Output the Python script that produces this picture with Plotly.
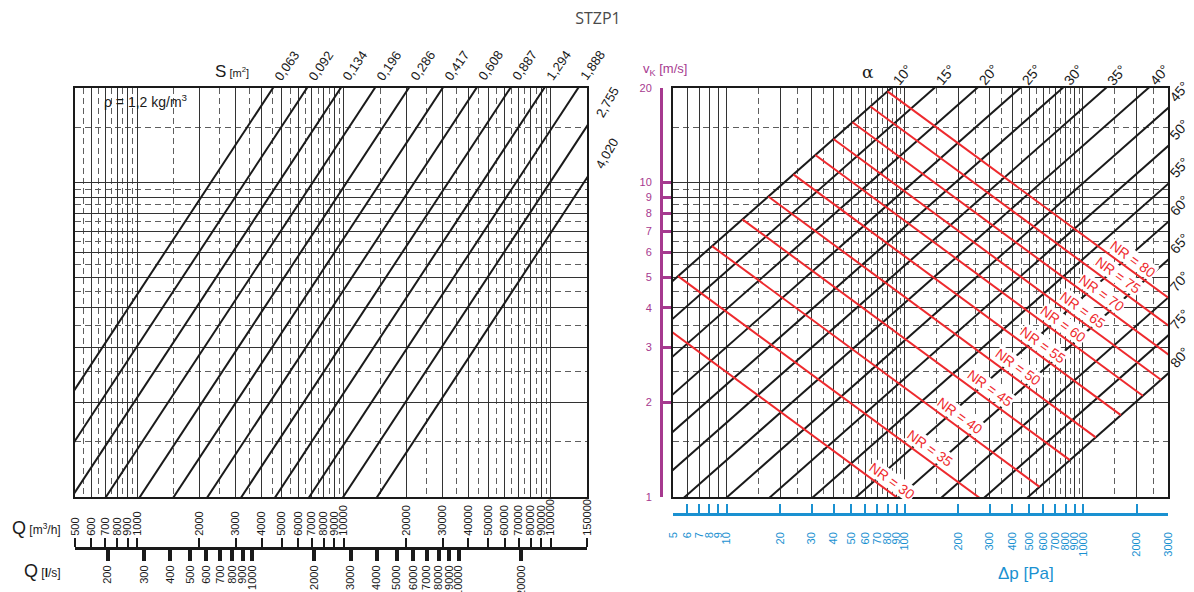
import math
import plotly.graph_objects as go

L10 = math.log10

# ---------------- data ----------------
# Left panel: free cross-section S [m2]
S_values = [0.063, 0.092, 0.134, 0.196, 0.286, 0.417, 0.608, 0.887, 1.294, 1.888, 2.755, 4.020]
S_labels = ["0,063", "0,092", "0,134", "0,196", "0,286", "0,417", "0,608", "0,887",
            "1,294", "1,888", "2,755", "4,020"]

Q_m3h_ticks = [500, 600, 700, 800, 900, 1000, 2000, 3000, 4000, 5000, 6000, 7000, 8000, 9000,
               10000, 20000, 30000, 40000, 50000, 60000, 70000, 80000, 90000, 100000, 150000]
Q_ls_ticks = [200, 300, 400, 500, 600, 700, 800, 900, 1000, 2000, 3000, 4000, 5000, 6000,
              7000, 8000, 9000, 10000, 20000]
Q_grid_major = [600, 700, 800, 900, 1000, 2000, 3000, 4000, 5000, 6000, 7000, 8000, 9000,
                10000, 20000, 30000, 40000, 50000, 60000, 70000, 80000, 90000, 100000]
Q_grid_minor = [550, 650, 750, 850, 950, 1500, 2500, 3500, 4500, 5500, 6500, 7500, 8500, 9500,
                15000, 25000, 35000, 45000, 55000, 65000, 75000, 85000, 95000]

v_ticks = [1, 2, 3, 4, 5, 6, 7, 8, 9, 10, 20]
v_grid_major = [2, 3, 4, 5, 6, 7, 8, 9, 10]
v_grid_minor = [1.5, 2.5, 3.5, 4.5, 5.5, 6.5, 7.5, 8.5, 9.5, 15]

dp_ticks = [5, 6, 7, 8, 9, 10, 20, 30, 40, 50, 60, 70, 80, 90, 100, 200, 300, 400, 500,
            600, 700, 800, 900, 1000, 2000, 3000]
dp_grid_major = [6, 7, 8, 9, 10, 20, 30, 40, 50, 60, 70, 80, 90, 100, 200, 300, 400, 500,
                 600, 700, 800, 900, 1000, 2000]
dp_grid_minor = [15, 25, 35, 45, 55, 65, 75, 85, 95, 150, 250, 350, 450, 550, 650, 750, 850,
                 950, 1500, 2500]

# Right panel: blade angle alpha and loss coefficient zeta
alpha_deg = [10, 15, 20, 25, 30, 35, 40, 45, 50, 55, 60, 65, 70, 75, 80]
zeta = [0.35, 0.61, 1.06, 1.85, 3.2, 5.6, 9.7, 16.8, 29.3, 51, 89, 155, 270, 470, 820]
RHO = 1.2

# Noise rating lines: velocity where each line starts on the 10 deg line
NR_values = [30, 35, 40, 45, 50, 55, 60, 65, 70, 75, 80]
NR_v_start = [3.96, 5.04, 6.28, 7.64, 9.03, 10.62, 12.24, 13.76, 15.56, 17.47, 19.51]
NR_label_dp = [85, 138, 205, 300, 432, 596, 773, 1000, 1277, 1570, 1906]
NR_exp = 2.4

# ---------------- layout helpers ----------------
W, H = 1194, 592
ML, MT, MB = 75, 88, 0
MR = W - 1168
PW = W - ML - MR
PH = H - MT - MB


def px_x(px):               # pixel -> paper x
    return (px - ML) / PW


def px_y(py):               # pixel -> paper y
    return (H - py) / PH


YD0 = px_y(497)
BLACK = "#1a1a1a"
RED = "#ee2a2e"
PURPLE = "#a6398f"
BLUE = "#1a91d1"
FONT = "Liberation Sans, Arial, sans-serif"

fig = go.Figure()

# left panel lines
for S in S_values:
    Q = [400, 200000]
    fig.add_trace(go.Scatter(x=Q, y=[q / (3600 * S) for q in Q], mode="lines",
                             line=dict(color=BLACK, width=2), xaxis="x", yaxis="y",
                             hoverinfo="skip", showlegend=False))

# right panel alpha lines
for z in zeta:
    vv = [0.5, 40]
    fig.add_trace(go.Scatter(x=[z * RHO / 2 * v ** 2 for v in vv], y=vv, mode="lines",
                             line=dict(color=BLACK, width=2), xaxis="x2", yaxis="y2",
                             hoverinfo="skip", showlegend=False))

# NR lines
c10 = zeta[0] * RHO / 2
c80 = zeta[-1] * RHO / 2
annotations = []
for nr, vs, dpl in zip(NR_values, NR_v_start, NR_label_dp):
    dps = c10 * vs ** 2
    K = dps * vs ** NR_exp
    ve = (K / c80) ** (1 / (2 + NR_exp))
    dpe = c80 * ve ** 2
    fig.add_trace(go.Scatter(x=[dps, dpe], y=[vs, ve], mode="lines",
                             line=dict(color=RED, width=2), xaxis="x2", yaxis="y2",
                             hoverinfo="skip", showlegend=False))
    vl = (K / dpl) ** (1 / NR_exp)
    annotations.append(dict(x=L10(dpl), y=L10(vl), xref="x2", yref="y2", text=f"NR = {nr}",
                            showarrow=False, textangle=36, yshift=13, bgcolor="white",
                            borderpad=0, font=dict(color=RED, size=14, family=FONT)))

# dummy traces to activate the scale axes
fig.add_trace(go.Scatter(x=[1000], y=[5], xaxis="x3", yaxis="y", mode="markers",
                         marker=dict(opacity=0), hoverinfo="skip", showlegend=False))
fig.add_trace(go.Scatter(x=[1000], y=[5], xaxis="x4", yaxis="y", mode="markers",
                         marker=dict(opacity=0), hoverinfo="skip", showlegend=False))
fig.add_trace(go.Scatter(x=[100], y=[5], xaxis="x5", yaxis="y2", mode="markers",
                         marker=dict(opacity=0), hoverinfo="skip", showlegend=False))
fig.add_trace(go.Scatter(x=[100], y=[5], xaxis="x2", yaxis="y3", mode="markers",
                         marker=dict(opacity=0), hoverinfo="skip", showlegend=False))

# S labels
for S, lab in zip(S_values, S_labels):
    qtop = 20 * 3600 * S
    if qtop <= 150000:
        annotations.append(dict(x=L10(qtop), y=L10(20), xref="x", yref="y", text=lab,
                                showarrow=False, textangle=-55, xshift=14, yshift=23,
                                font=dict(size=13, color=BLACK, family=FONT)))
    else:
        annotations.append(dict(x=L10(150000), y=L10(150000 / (3600 * S)), xref="x", yref="y",
                                text=lab, showarrow=False, textangle=-60, xshift=20, yshift=24,
                                font=dict(size=13, color=BLACK, family=FONT)))

# angle labels
for a, z in zip(alpha_deg, zeta):
    dp_top = z * RHO / 2 * 400
    if dp_top <= 3000:
        annotations.append(dict(x=L10(dp_top), y=L10(20), xref="x2", yref="y2", text=f"{a}°",
                                showarrow=False, textangle=-50, xshift=11, yshift=13,
                                font=dict(size=14, color=BLACK, family=FONT)))
    else:
        vr = math.sqrt(3000 / (z * RHO / 2))
        annotations.append(dict(x=L10(3000), y=L10(vr), xref="x2", yref="y2", text=f"{a}°",
                                showarrow=False, textangle=-50, xshift=11, yshift=16,
                                font=dict(size=14, color=BLACK, family=FONT)))


def note(px, py, text, size, color, xanchor="center", family=FONT):
    return dict(x=px_x(px), y=px_y(py), xref="paper", yref="paper", showarrow=False,
                xanchor=xanchor, yanchor="middle", text=text,
                font=dict(size=size, color=color, family=family))


annotations += [
    note(232, 72, "<span style='font-size:17px'>S</span> [m<sup>2</sup>]", 11, BLACK),
    note(102, 101, "ρ = 1,2 kg/m<sup>3</sup>", 14, BLACK, xanchor="left"),
    note(63, 528, "<span style='font-size:18px'>Q</span> [m<sup>3</sup>/h]", 12, BLACK,
         xanchor="right"),
    note(63, 571, "<span style='font-size:18px'>Q</span> [<b>l</b>/s]", 12, BLACK,
         xanchor="right"),
    note(665, 70, "v<sub>K</sub> [m/s]", 13, PURPLE),
    note(868, 72, "α", 17, BLACK, family="DejaVu Serif, serif"),
    note(1026, 573, "Δp [Pa]", 17, BLUE),
]


def grid_axis(rng, dom, anchor, major, minor):
    return dict(type="log", range=rng, domain=dom, anchor=anchor, tickmode="array",
                tickvals=major, showticklabels=False, ticks="", showgrid=True,
                gridcolor="#333333", gridwidth=1, zeroline=False, showline=True, mirror=True,
                linecolor=BLACK, linewidth=2, automargin=False,
                minor=dict(tickmode="array", tickvals=minor, showgrid=True, gridcolor="#5e5e5e",
                           gridwidth=1, griddash="6px,4px", ticks=""))


XL = [L10(500), L10(150000)]
XR = [L10(5), L10(3000)]
YR = [0, L10(20)]
DL = [0, px_x(587)]
DR = [px_x(673), 1]

fig.update_layout(
    width=W, height=H, margin=dict(l=ML, r=MR, t=MT, b=MB, autoexpand=False),
    paper_bgcolor="white", plot_bgcolor="white", showlegend=False, hovermode=False,
    title=dict(text="STZP1", x=598 / W, xanchor="center", y=1 - 18 / H, yanchor="middle",
               automargin=False,
               font=dict(size=16, color="#4a4a4a", family="Open Sans, sans-serif")),
    xaxis=grid_axis(XL, DL, "y", Q_grid_major, Q_grid_minor),
    yaxis=grid_axis(YR, [YD0, 1], "x", v_grid_major, v_grid_minor),
    xaxis2=grid_axis(XR, DR, "y2", dp_grid_major, dp_grid_minor),
    yaxis2=grid_axis(YR, [YD0, 1], "x2", v_grid_major, v_grid_minor),
    xaxis3=dict(type="log", range=XL, overlaying="x", anchor="free", position=px_y(548),
                side="top", tickmode="array", tickvals=Q_m3h_ticks,
                ticktext=[str(t) for t in Q_m3h_ticks], tickangle=-90, ticks="outside",
                ticklen=9, tickwidth=2, tickcolor=BLACK, showline=True, linewidth=3,
                linecolor=BLACK, showgrid=False, zeroline=False, automargin=False,
                tickfont=dict(size=11, color=BLACK, family=FONT)),
    xaxis4=dict(type="log", range=[L10(500 / 3.6), L10(150000 / 3.6)], overlaying="x",
                anchor="free", position=px_y(548), side="bottom", tickmode="array",
                tickvals=Q_ls_ticks, ticktext=[str(t) for t in Q_ls_ticks], tickangle=-90,
                ticks="outside", ticklen=11, tickwidth=4, tickcolor=BLACK, showline=True,
                linewidth=3, linecolor=BLACK, showgrid=False, zeroline=False, automargin=False,
                tickfont=dict(size=11, color=BLACK, family=FONT)),
    xaxis5=dict(type="log", range=XR, overlaying="x2", anchor="free", position=px_y(514),
                side="bottom", tickmode="array", tickvals=dp_ticks,
                ticktext=[str(t) for t in dp_ticks], tickangle=-90, ticks="inside",
                ticklen=9, tickwidth=2, tickcolor=BLUE, showline=True, linewidth=2.5,
                linecolor=BLUE, showgrid=False, zeroline=False, ticklabelstandoff=12,
                automargin=False, tickfont=dict(size=11, color=BLUE, family=FONT)),
    yaxis3=dict(type="log", range=YR, overlaying="y2", anchor="free", position=px_x(661),
                side="left", tickmode="array", tickvals=v_ticks,
                ticktext=[str(t) for t in v_ticks], ticks="inside", ticklen=8, tickwidth=3,
                tickcolor=PURPLE, showline=True, linewidth=3, linecolor=PURPLE,
                showgrid=False, zeroline=False, ticklabelstandoff=6, automargin=False,
                tickfont=dict(size=11, color=PURPLE, family=FONT)),
    annotations=annotations,
)

# remove the browser's default 8px page margin so the figure sits at the page origin
fig.write_html("out.html", config={"displayModeBar": False},
               post_script="document.body.style.margin='0px';")
